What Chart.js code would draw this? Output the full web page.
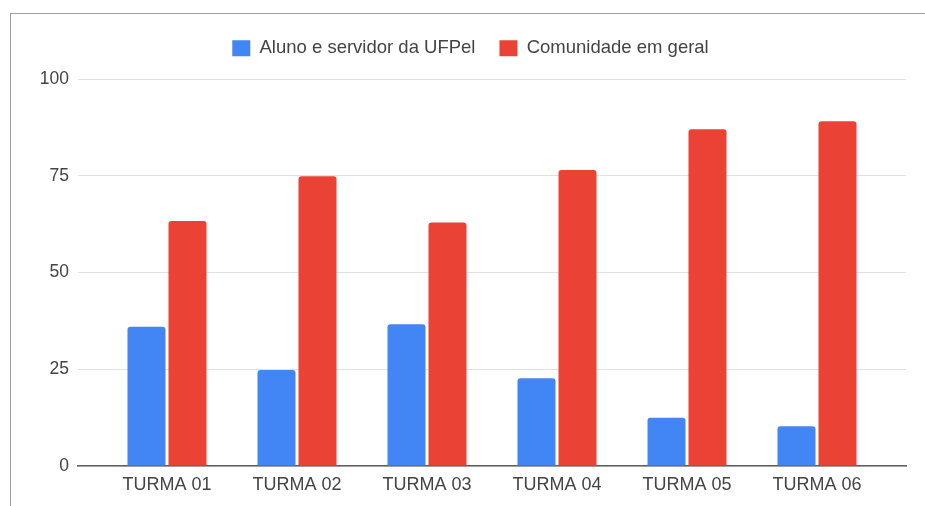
<!DOCTYPE html>
<html>
<head>
<meta charset="utf-8">
<script src="https://cdn.jsdelivr.net/npm/chart.js@4"></script>
<style>
    html, body { margin: 0; padding: 0; background: #fff; overflow: hidden; }
    #frame {
        position: absolute; left: 10px; top: 13px;
        width: 960px; height: 540px;
        border: 1px solid #9e9e9e; background: #fff;
    }
    #wrap { position: absolute; left: 0; top: 0; width: 914px; height: 492px; }
</style>
</head>
<body>
<div id="frame"><div id="wrap"><canvas id="chart"></canvas></div></div>
<script>
// Turmas and share of each audience (%)
const turmas = ['TURMA 01', 'TURMA 02', 'TURMA 03', 'TURMA 04', 'TURMA 05', 'TURMA 06'];
const alunoServidor = [36, 24.8, 36.6, 22.7, 12.5, 10.3];
const comunidade = [63.3, 74.9, 62.9, 76.5, 87, 89.1];
const yTicks = [0, 25, 50, 75, 100];

const FONT = "Arial, 'Liberation Sans', sans-serif";
const TEXT = '#444';

// groups sit on a numeric x axis so the plot can keep some room at both ends
const xPad = 0.6846;
const toPoints = vals => vals.map((v, i) => ({ x: i, y: v }));

// extra space under the legend before the plot starts, and a small nudge
const legendSpacer = {
    id: 'legendSpacer',
    beforeInit(chart) {
        const fit = chart.legend.fit;
        chart.legend.fit = function () {
            fit.call(this);
            this.height += 12.5;
        };
    },
    afterLayout(chart) {
        const lg = chart.legend;
        lg.left += 12; lg.right += 12;
        lg.top += 1; lg.bottom += 1;
    }
};

new Chart(document.getElementById('chart'), {
    type: 'bar',
    data: {
        datasets: [
            {
                label: 'Aluno e servidor da UFPel',
                data: toPoints(alunoServidor),
                backgroundColor: '#4285F4',
                borderRadius: 3
            },
            {
                label: 'Comunidade em geral',
                data: toPoints(comunidade),
                backgroundColor: '#EA4335',
                borderRadius: 3
            }
        ]
    },
    options: {
        responsive: true,
        maintainAspectRatio: false,
        animation: false,
        categoryPercentage: 0.631,
        barPercentage: 0.927,
        layout: { padding: { top: 0, right: 19, left: 0, bottom: 0 } },
        plugins: {
            tooltip: { enabled: false },
            legend: {
                position: 'top',
                labels: {
                    boxWidth: 18,
                    boxHeight: 16,
                    padding: 24,
                    color: TEXT,
                    font: { family: FONT, size: 18.5 }
                }
            }
        },
        scales: {
            x: {
                type: 'linear',
                offset: false,
                min: -xPad,
                max: turmas.length - 1 + xPad,
                afterFit: s => { s.height = 40; },
                grid: { display: false },
                border: { display: true, color: '#5f5f5f', width: 1.5 },
                ticks: {
                    stepSize: 1,
                    autoSkip: false,
                    includeBounds: false,
                    maxRotation: 0,
                    padding: 0,
                    color: TEXT,
                    font: { family: FONT, size: 18 },
                    callback: v => Number.isInteger(v) ? turmas[v] : ''
                }
            },
            y: {
                min: 0,
                max: 100,
                afterFit: s => { s.width = 67; },
                afterBuildTicks: s => { s.ticks = yTicks.map(v => ({ value: v })); },
                grid: { color: '#e0e0e0', lineWidth: 1, drawTicks: false },
                border: { display: false },
                ticks: {
                    padding: 9,
                    color: TEXT,
                    font: { family: FONT, size: 17.5 }
                }
            }
        }
    },
    plugins: [legendSpacer]
});
</script>
</body>
</html>
